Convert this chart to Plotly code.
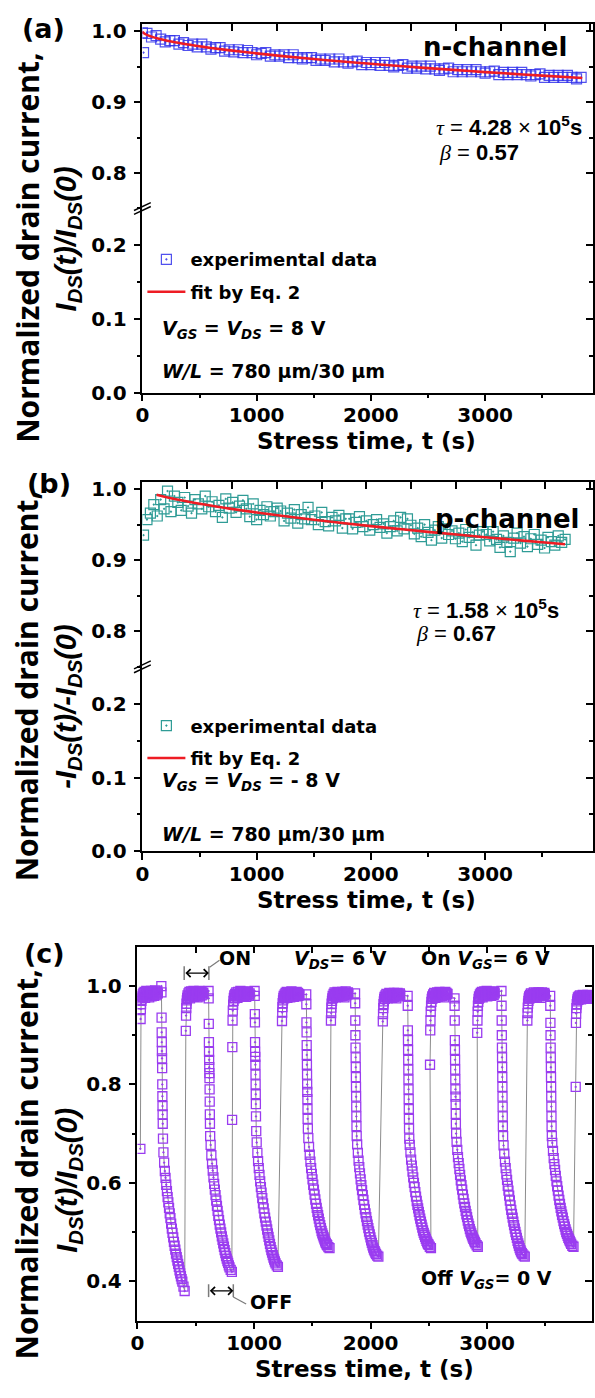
import plotly.graph_objects as go

W, H = 595, 1398

# ------------------------------------------------------------------ data
# (a) n-channel, experimental data
a_t = [0, 10,
       40, 80, 120, 160, 200, 240, 280, 320, 360, 400,
       440, 480, 520, 560, 600, 640, 680, 720, 760, 800,
       840, 880, 920, 960, 1000, 1040, 1080, 1120, 1160, 1200,
       1240, 1280, 1320, 1360, 1400, 1440, 1480, 1520, 1560, 1600,
       1640, 1680, 1720, 1760, 1800, 1840, 1880, 1920, 1960, 2000,
       2040, 2080, 2120, 2160, 2200, 2240, 2280, 2320, 2360, 2400,
       2440, 2480, 2520, 2560, 2600, 2640, 2680, 2720, 2760, 2800,
       2840, 2880, 2920, 2960, 3000, 3040, 3080, 3120, 3160, 3200,
       3240, 3280, 3320, 3360, 3400, 3440, 3480, 3520, 3560, 3600,
       3640, 3680, 3720, 3760, 3800, 3840]
a_v = [0.998, 0.970,
       0.997, 0.992, 0.994, 0.989, 0.985, 0.987, 0.987, 0.982, 0.984, 0.980,
       0.982, 0.978, 0.982, 0.978, 0.975, 0.977, 0.977, 0.972, 0.974, 0.971,
       0.974, 0.970, 0.973, 0.970, 0.967, 0.969, 0.970, 0.965, 0.967, 0.965,
       0.967, 0.963, 0.967, 0.963, 0.961, 0.963, 0.963, 0.959, 0.961, 0.959,
       0.961, 0.957, 0.961, 0.957, 0.955, 0.957, 0.958, 0.953, 0.956, 0.953,
       0.956, 0.952, 0.956, 0.952, 0.950, 0.952, 0.953, 0.948, 0.951, 0.948,
       0.951, 0.947, 0.951, 0.947, 0.945, 0.947, 0.948, 0.943, 0.946, 0.943,
       0.946, 0.943, 0.946, 0.943, 0.941, 0.943, 0.944, 0.939, 0.942, 0.939,
       0.942, 0.939, 0.942, 0.939, 0.937, 0.939, 0.940, 0.935, 0.938, 0.935,
       0.938, 0.935, 0.938, 0.935, 0.933, 0.935]
# (a) fit curve (Eq. 2)
a_fit_t = [0, 5, 20, 50, 100, 200, 300, 400, 500, 600, 750, 1000, 1250, 1500,
           1750, 2000, 2250, 2500, 2750, 3000, 3250, 3500, 3850]
a_fit_v = [1.0, 0.9985, 0.9966, 0.9943, 0.9915, 0.9874, 0.9842, 0.9814, 0.9789,
           0.9766, 0.9735, 0.9689, 0.9647, 0.9609, 0.9574, 0.9542, 0.9510,
           0.9481, 0.9453, 0.9425, 0.9400, 0.9375, 0.9341]

# (b) p-channel, experimental data
b_t = [10, 40, 70, 100, 130, 160, 190, 220, 250, 280,
       310, 340, 370, 400, 430, 460, 490, 520, 550, 580,
       610, 640, 670, 700, 730, 760, 790, 820, 850, 880,
       910, 940, 970, 1000, 1030, 1060, 1090, 1120, 1150, 1180,
       1210, 1240, 1270, 1300, 1330, 1360, 1390, 1420, 1450, 1480,
       1510, 1540, 1570, 1600, 1630, 1660, 1690, 1720, 1750, 1780,
       1810, 1840, 1870, 1900, 1930, 1960, 1990, 2020, 2050, 2080,
       2110, 2140, 2170, 2200, 2230, 2260, 2290, 2320, 2350, 2380,
       2410, 2440, 2470, 2500, 2530, 2560, 2590, 2620, 2650, 2680,
       2710, 2740, 2770, 2800, 2830, 2860, 2890, 2920, 2950, 2980,
       3010, 3040, 3070, 3100, 3130, 3160, 3190, 3220, 3250, 3280,
       3310, 3340, 3370, 3400, 3430, 3460, 3490, 3520, 3550, 3580,
       3610, 3640, 3670, 3700]
b_v = [0.935, 0.957, 0.966, 0.978, 0.962, 0.985, 0.972, 0.997, 0.968, 0.990,
       0.981, 0.970, 0.988, 0.976, 0.966, 0.985, 0.979, 0.972, 0.990, 0.975,
       0.982, 0.968, 0.977, 0.960, 0.986, 0.973, 0.981, 0.967, 0.976, 0.984,
       0.972, 0.961, 0.979, 0.957, 0.970, 0.964, 0.975, 0.962, 0.968, 0.973,
       0.969, 0.955, 0.966, 0.959, 0.971, 0.952, 0.964, 0.958, 0.974, 0.957,
       0.962, 0.950, 0.967, 0.954, 0.948, 0.960, 0.955, 0.963, 0.945, 0.958,
       0.958, 0.944, 0.953, 0.961, 0.947, 0.955, 0.942, 0.950, 0.957, 0.946,
       0.951, 0.938, 0.947, 0.955, 0.941, 0.960, 0.944, 0.958, 0.949, 0.937,
       0.945, 0.933, 0.950, 0.939, 0.928, 0.942, 0.947, 0.931, 0.944, 0.936,
       0.941, 0.930, 0.938, 0.926, 0.943, 0.932, 0.939, 0.921, 0.935, 0.940,
       0.936, 0.927, 0.940, 0.929, 0.918, 0.934, 0.925, 0.912, 0.931, 0.938,
       0.924, 0.933, 0.919, 0.930, 0.936, 0.922, 0.928, 0.917, 0.932, 0.926,
       0.921, 0.934, 0.925, 0.929]
b_fit_t = [124, 250, 500, 750, 1000, 1250, 1500, 1750, 2000, 2250, 2500, 2750,
           3000, 3250, 3500, 3700]
b_fit_v = [0.9917, 0.9868, 0.9791, 0.9727, 0.9669, 0.9617, 0.9568, 0.9522,
           0.9478, 0.9437, 0.9397, 0.9359, 0.9322, 0.9286, 0.9251, 0.9223]

# (c) ON/OFF cycling: phase start times and sample times within a phase
c_on_start = [25, 415, 812, 1240, 1660, 2105, 2510, 2915, 3345, 3760]
c_off_start = [205, 610, 1005, 1448, 1867, 2318, 2720, 3123, 3541]
c_on_dt = [0, 2, 4, 6, 9, 12, 15, 19, 23, 27, 31, 36, 41, 46, 51, 56, 61, 66, 71,
           76, 81, 86, 91, 96, 101, 106, 111, 116, 121, 126, 131, 136, 141, 146, 150]
c_off_dt = [0, 1, 2, 3, 4, 5, 6, 7, 8, 9, 10, 11, 12, 14,
            18, 24, 30, 36, 42, 48, 54, 60, 66, 72, 78, 84, 90, 96, 102, 108, 114,
            120, 126, 132, 138, 144, 150, 156, 162, 168, 174, 180, 190, 200]

c_on1 = [0.669, 0.933, 0.953, 0.963, 0.970, 0.975, 0.979, 0.983, 0.978, 0.986, 0.981, 0.988,
         0.976, 0.984, 0.990, 0.980, 0.986, 0.982, 0.989, 0.977, 0.985, 0.983, 0.990, 0.979,
         0.987, 0.982, 0.988, 0.980, 0.985, 0.991, 0.981, 0.987, 0.983, 0.989, 0.985]
c_on2 = [0.909, 0.940, 0.955, 0.964, 0.971, 0.976, 0.981, 0.977, 0.985, 0.980, 0.988, 0.975,
         0.983, 0.989, 0.979, 0.986, 0.981, 0.990, 0.978, 0.984, 0.987, 0.980, 0.989, 0.983,
         0.977, 0.986, 0.982, 0.990, 0.979, 0.985, 0.988, 0.981, 0.987, 0.983, 0.986]
c_on3 = [0.728, 0.876, 0.930, 0.950, 0.962, 0.970, 0.976, 0.981, 0.975, 0.984, 0.979, 0.987,
         0.982, 0.976, 0.988, 0.983, 0.979, 0.986, 0.990, 0.981, 0.985, 0.978, 0.988, 0.983,
         0.986, 0.980, 0.989, 0.984, 0.978, 0.986, 0.982, 0.988, 0.984, 0.981, 0.985]
c_on4 = [0.929, 0.946, 0.957, 0.965, 0.971, 0.976, 0.980, 0.975, 0.983, 0.978, 0.986, 0.981,
         0.988, 0.976, 0.984, 0.979, 0.987, 0.982, 0.977, 0.985, 0.989, 0.980, 0.986, 0.983,
         0.978, 0.987, 0.982, 0.985, 0.979, 0.988, 0.983, 0.986, 0.980, 0.984, 0.982]
c_on5 = [0.930, 0.945, 0.956, 0.964, 0.970, 0.975, 0.980, 0.976, 0.984, 0.979, 0.987, 0.982,
         0.977, 0.986, 0.981, 0.988, 0.978, 0.984, 0.982, 0.987, 0.979, 0.985, 0.983, 0.988,
         0.980, 0.986, 0.982, 0.977, 0.985, 0.989, 0.981, 0.986, 0.983, 0.987, 0.984]
c_on6 = [0.928, 0.943, 0.955, 0.963, 0.969, 0.974, 0.978, 0.974, 0.981, 0.977, 0.984, 0.979,
         0.975, 0.983, 0.980, 0.986, 0.977, 0.982, 0.979, 0.985, 0.976, 0.983, 0.981, 0.986,
         0.978, 0.984, 0.980, 0.975, 0.983, 0.986, 0.979, 0.984, 0.981, 0.985, 0.982]
c_on7 = [0.840, 0.910, 0.930, 0.948, 0.960, 0.968, 0.974, 0.979, 0.975, 0.983, 0.978, 0.986,
         0.981, 0.976, 0.985, 0.980, 0.987, 0.978, 0.984, 0.982, 0.988, 0.979, 0.985, 0.983,
         0.987, 0.980, 0.986, 0.982, 0.977, 0.985, 0.988, 0.981, 0.986, 0.983, 0.984]
c_on8 = [0.905, 0.930, 0.948, 0.960, 0.968, 0.974, 0.979, 0.976, 0.983, 0.979, 0.986, 0.981,
         0.988, 0.977, 0.985, 0.982, 0.989, 0.980, 0.986, 0.983, 0.990, 0.979, 0.987, 0.984,
         0.981, 0.988, 0.983, 0.986, 0.980, 0.989, 0.984, 0.987, 0.982, 0.988, 0.985]
c_on9 = [0.930, 0.945, 0.956, 0.964, 0.970, 0.975, 0.979, 0.975, 0.982, 0.978, 0.985, 0.980,
         0.976, 0.984, 0.981, 0.987, 0.978, 0.983, 0.980, 0.986, 0.977, 0.984, 0.982, 0.987,
         0.979, 0.985, 0.981, 0.976, 0.984, 0.987, 0.980, 0.985, 0.982, 0.986, 0.983]
c_on10 = [0.795, 0.925, 0.944, 0.955, 0.963, 0.969, 0.973, 0.977, 0.972, 0.979, 0.975, 0.981,
          0.977, 0.973, 0.980, 0.976, 0.982, 0.974, 0.979, 0.977, 0.981, 0.975, 0.980, 0.978,
          0.982, 0.976, 0.980, 0.977, 0.974, 0.981, 0.978, 0.980, 0.976, 0.979, 0.977]

c_off1 = [1.0, 0.987, 0.936, 0.906, 0.886, 0.868, 0.853, 0.833, 0.80, 0.776, 0.756, 0.739,
          0.72, 0.69,
          0.662, 0.641, 0.624, 0.610, 0.596, 0.583, 0.571, 0.560, 0.549, 0.538, 0.528,
          0.517, 0.507, 0.498, 0.489, 0.480, 0.472, 0.464, 0.456, 0.449, 0.442, 0.435,
          0.429, 0.422, 0.416, 0.410, 0.404, 0.399, 0.389, 0.380]
c_off2 = [0.99, 0.975, 0.923, 0.886, 0.866, 0.85, 0.835, 0.823, 0.813, 0.79, 0.765, 0.739,
          0.72, 0.695,
          0.677, 0.656, 0.639, 0.625, 0.611, 0.598, 0.586, 0.575, 0.564, 0.553, 0.543,
          0.533, 0.524, 0.515, 0.507, 0.499, 0.491, 0.484, 0.477, 0.470, 0.463, 0.457,
          0.451, 0.446, 0.441, 0.437, 0.432, 0.428, 0.423, 0.419]
c_off3 = [0.99, 0.98, 0.943, 0.926, 0.886, 0.866, 0.856, 0.84, 0.82, 0.80, 0.78, 0.76,
          0.735, 0.705,
          0.682, 0.661, 0.644, 0.630, 0.616, 0.603, 0.591, 0.580, 0.569, 0.558, 0.548,
          0.538, 0.529, 0.521, 0.513, 0.505, 0.497, 0.490, 0.483, 0.476, 0.469, 0.463,
          0.458, 0.453, 0.448, 0.444, 0.440, 0.436, 0.432, 0.429]
c_off4 = [0.983, 0.963, 0.926, 0.906, 0.88, 0.86, 0.84, 0.82, 0.80, 0.785, 0.77, 0.75,
          0.73, 0.71,
          0.691, 0.673, 0.657, 0.643, 0.630, 0.618, 0.607, 0.596, 0.586, 0.576, 0.566,
          0.557, 0.549, 0.541, 0.534, 0.527, 0.520, 0.514, 0.508, 0.502, 0.497, 0.493,
          0.489, 0.485, 0.481, 0.478, 0.475, 0.473, 0.469, 0.467]
c_off5 = [0.985, 0.965, 0.93, 0.90, 0.875, 0.855, 0.835, 0.815, 0.795, 0.775, 0.755, 0.735,
          0.715, 0.695,
          0.678, 0.661, 0.645, 0.632, 0.619, 0.607, 0.595, 0.585, 0.575, 0.565, 0.555,
          0.546, 0.538, 0.530, 0.522, 0.515, 0.508, 0.501, 0.495, 0.489, 0.483, 0.478,
          0.473, 0.468, 0.464, 0.461, 0.458, 0.455, 0.452, 0.450]
c_off6 = [0.98, 0.96, 0.91, 0.89, 0.87, 0.85, 0.83, 0.81, 0.79, 0.77, 0.75, 0.73,
          0.71, 0.69,
          0.677, 0.662, 0.647, 0.635, 0.623, 0.611, 0.600, 0.591, 0.581, 0.572, 0.563,
          0.555, 0.548, 0.541, 0.534, 0.527, 0.521, 0.515, 0.509, 0.503, 0.498, 0.494,
          0.490, 0.486, 0.482, 0.479, 0.476, 0.474, 0.470, 0.467]
c_off7 = [0.975, 0.96, 0.93, 0.89, 0.87, 0.85, 0.83, 0.81, 0.79, 0.775, 0.76, 0.74,
          0.72, 0.70,
          0.683, 0.667, 0.652, 0.640, 0.628, 0.616, 0.605, 0.595, 0.586, 0.576, 0.567,
          0.558, 0.551, 0.543, 0.536, 0.530, 0.523, 0.517, 0.512, 0.506, 0.501, 0.497,
          0.493, 0.489, 0.486, 0.483, 0.480, 0.477, 0.473, 0.470]
c_off8 = [0.99, 0.96, 0.93, 0.90, 0.875, 0.855, 0.835, 0.815, 0.795, 0.775, 0.755, 0.735,
          0.715, 0.695,
          0.676, 0.659, 0.643, 0.630, 0.617, 0.606, 0.594, 0.584, 0.574, 0.564, 0.554,
          0.545, 0.537, 0.529, 0.521, 0.514, 0.507, 0.500, 0.494, 0.488, 0.482, 0.477,
          0.472, 0.467, 0.463, 0.460, 0.457, 0.455, 0.452, 0.450]
c_off9 = [0.98, 0.96, 0.925, 0.90, 0.875, 0.855, 0.835, 0.815, 0.795, 0.775, 0.755, 0.735,
          0.715, 0.695,
          0.681, 0.665, 0.650, 0.638, 0.626, 0.614, 0.603, 0.593, 0.584, 0.574, 0.565,
          0.557, 0.549, 0.542, 0.535, 0.529, 0.522, 0.516, 0.511, 0.505, 0.500, 0.496,
          0.492, 0.488, 0.485, 0.482, 0.479, 0.476, 0.472, 0.470]

x_ticks = [0, 1000, 2000, 3000]

# ------------------------------------------------------------------ helpers
SANS = "Liberation Sans, Arial, sans-serif"
WIDE = "DejaVu Sans, Verdana, sans-serif"
OPEN = "Open Sans, DejaVu Sans, sans-serif"
BLUE = "rgba(50,50,235,0.85)"
TEAL = "#2f9c96"
PURPLE = "#9a3cf0"
RED = "#ee1c24"


def px(x):
    return x / W


def py(y):
    return 1 - y / H


c_on_all = [c_on1, c_on2, c_on3, c_on4, c_on5, c_on6, c_on7, c_on8, c_on9, c_on10]
c_off_all = [c_off1, c_off2, c_off3, c_off4, c_off5, c_off6, c_off7, c_off8, c_off9]
c_t, c_v = [], []
for k, on_vals in enumerate(c_on_all):
    for dt, v in zip(c_on_dt, on_vals):
        c_t.append(c_on_start[k] + dt)
        c_v.append(v)
    if k < len(c_off_all):
        for dt, v in zip(c_off_dt, c_off_all[k]):
            c_t.append(c_off_start[k] + dt)
            c_v.append(v)

# ------------------------------------------------------------------ figure
fig = go.Figure()

# empty traces so that every (overlay / broken) axis gets its own subplot
for xa, ya in [("x", "y"), ("x2", "y2"), ("x", "y3"), ("x", "y4"),
               ("x3", "y5"), ("x4", "y6"), ("x3", "y7"), ("x3", "y8"),
               ("x6", "y9"), ("x5", "y10")]:
    fig.add_trace(go.Scatter(x=[], y=[], xaxis=xa, yaxis=ya, showlegend=False,
                             hoverinfo="skip", mode="markers"))

fig.add_trace(go.Scatter(x=a_t, y=a_v, xaxis="x", yaxis="y2", mode="markers",
                         name="experimental data", legend="legend", legendgroup="a1",
                         marker=dict(symbol="square-open-dot", size=10, color=BLUE,
                                     line=dict(width=1.2, color=BLUE))))
fig.add_trace(go.Scatter(x=a_fit_t, y=a_fit_v, xaxis="x", yaxis="y2", mode="lines",
                         name="fit by Eq. 2", legend="legend", legendgroup="a2",
                         line_shape="spline", line=dict(color=RED, width=2.6)))

fig.add_trace(go.Scatter(x=b_t, y=b_v, xaxis="x3", yaxis="y6", mode="markers",
                         name="experimental data", legend="legend2", legendgroup="b1",
                         marker=dict(symbol="square-open-dot", size=10, color=TEAL,
                                     line=dict(width=1.2, color=TEAL))))
fig.add_trace(go.Scatter(x=b_fit_t, y=b_fit_v, xaxis="x3", yaxis="y6", mode="lines",
                         name="fit by Eq. 2", legend="legend2", legendgroup="b2",
                         line_shape="spline", line=dict(color=RED, width=2.6)))

fig.add_trace(go.Scatter(x=c_t, y=c_v, xaxis="x5", yaxis="y9", mode="lines+markers",
                         showlegend=False,
                         line=dict(color="#8c8c8c", width=1),
                         marker=dict(symbol="square-open-dot", size=9, color=PURPLE,
                                     line=dict(width=1.3, color=PURPLE))))

TICKFONT = dict(family=WIDE, size=20, color="black", weight="bold")


def xbottom(domain, anchor, rng):
    return dict(domain=domain, anchor=anchor, range=rng, showline=True,
                linecolor="black", linewidth=1.5, ticks="outside", ticklen=7,
                tickwidth=1.5, tickcolor="black", tickvals=x_ticks, tickformat="d",
                ticklabelstandoff=-3,
                minor=dict(ticks="outside", ticklen=4, tickwidth=1.5, tickcolor="black",
                           dtick=500, tick0=0, showgrid=False),
                showgrid=False, zeroline=False, tickfont=TICKFONT)


def xtop(over, anchor, rng, dtick):
    return dict(overlaying=over, side="top", anchor=anchor, range=rng, showline=True,
                linecolor="black", linewidth=1.5, ticks="inside", ticklen=7,
                tickwidth=1.5, tickcolor="black", dtick=dtick, tick0=0,
                showticklabels=False, showgrid=False, zeroline=False)


def yleft(domain, anchor, rng, dtick, mdtick):
    return dict(domain=domain, anchor=anchor, range=rng, showline=True, mirror=True,
                linecolor="black", linewidth=1.5, ticks="outside", ticklen=7,
                tickwidth=1.5, tickcolor="black", dtick=dtick, tick0=0,
                tickformat=".1f", ticklabelstandoff=3,
                minor=dict(ticks="outside", ticklen=4, tickwidth=1.5, tickcolor="black",
                           dtick=mdtick, tick0=0, showgrid=False),
                showgrid=False, zeroline=False, tickfont=TICKFONT)


def yright(over, anchor, rng, dtick, mdtick):
    return dict(overlaying=over, side="right", anchor=anchor, range=rng,
                showline=False, ticks="inside", ticklen=7, tickwidth=1.5,
                tickcolor="black", dtick=dtick, tick0=0,
                minor=dict(ticks="inside", ticklen=4, tickwidth=1.5, tickcolor="black",
                           dtick=mdtick, tick0=0, showgrid=False),
                showticklabels=False, showgrid=False, zeroline=False)


XA = [px(137), px(592.5)]
XC = [px(132), px(592)]
RA = [0, 3940]
RC = [0, 3900]
LOW = [0, 0.25]
UP = [0.75, 1.01]
a_dom_low = [py(392.5), py(206)]
a_dom_up = [py(206), py(19.5)]
b_dom_low = [py(856.7), py(670)]
b_dom_up = [py(670), py(482.7)]
c_dom = [py(1331.7), py(953.3)]

fig.update_layout(
    xaxis=xbottom(XA, "y", RA),
    yaxis=yleft(a_dom_low, "x", LOW, 0.1, 0.05),
    yaxis2=yleft(a_dom_up, "x", UP, 0.1, 0.05),
    xaxis2=xtop("x", "y2", RA, 392),
    yaxis3=yright("y", "x", LOW, 0.1, 0.05),
    yaxis4=yright("y2", "x", UP, 0.1, 0.05),
    xaxis3=xbottom(XA, "y5", RA),
    yaxis5=yleft(b_dom_low, "x3", LOW, 0.1, 0.05),
    yaxis6=yleft(b_dom_up, "x3", UP, 0.1, 0.05),
    xaxis4=xtop("x3", "y6", RA, 392),
    yaxis7=yright("y5", "x3", LOW, 0.1, 0.05),
    yaxis8=yright("y6", "x3", UP, 0.1, 0.05),
    xaxis5=xbottom(XC, "y9", RC),
    yaxis9=yleft(c_dom, "x5", [0.32, 1.08], 0.2, 0.1),
    xaxis6=xtop("x5", "y9", RC, 500),
    yaxis10=yright("y9", "x5", [0.32, 1.08], 0.2, 0.1),
)

LEGFONT = dict(family=WIDE, size=18, color="black", weight="bold")
fig.update_layout(
    width=W, height=H, autosize=False,
    margin=dict(l=0, r=0, t=0, b=0),
    paper_bgcolor="white", plot_bgcolor="white",
    legend=dict(x=px(137), y=py(239), xanchor="left", yanchor="top",
                bgcolor="rgba(0,0,0,0)", font=LEGFONT, itemwidth=38,
                tracegroupgap=6),
    legend2=dict(x=px(137), y=py(711), xanchor="left", yanchor="top",
                 bgcolor="rgba(0,0,0,0)", font=LEGFONT, itemwidth=38,
                 tracegroupgap=6),
)

ann = []


def A(text, x, y, size, family=WIDE, xanchor="center", yanchor="middle",
      angle=0, weight="bold"):
    ann.append(dict(text=text, x=px(x), y=py(y), xref="paper", yref="paper",
                    showarrow=False, xanchor=xanchor, yanchor=yanchor,
                    textangle=angle,
                    font=dict(family=family, size=size, color="black", weight=weight)))


TAU = ("<span style='font-family:Liberation Serif;font-style:italic;font-weight:normal'>τ</span>"
       "<span style='font-weight:normal'> = </span>{v} "
       "<span style='font-weight:normal'>×</span> 10<sup>5</sup>s")
BETA = ("<span style='font-family:Liberation Serif;font-style:italic;font-weight:normal'>β</span>"
        "<span style='font-weight:normal'> = </span>{v}")
ID_N = "<i>I</i><sub><i>DS</i></sub><i>(t)/I</i><sub><i>DS</i></sub><i>(0)</i>"
ID_P = "<i>-I</i><sub><i>DS</i></sub><i>(t)/-I</i><sub><i>DS</i></sub><i>(0)</i>"
VGS_N = "<i>V</i><sub><i>GS</i></sub> = <i>V</i><sub><i>DS</i></sub> = 8 V"
VGS_P = "<i>V</i><sub><i>GS</i></sub> = <i>V</i><sub><i>DS</i></sub> = - 8 V"
WL = "<i>W/L</i> = 780 μm/30 μm"

# panel (a)
A("(a)", 37, 24, 27)
A("n-channel", 569, 43, 26, xanchor="right")
A(TAU.format(v="4.28"), 584, 122, 22, SANS, xanchor="right")
A(BETA.format(v="0.57"), 435, 149, 22, SANS, xanchor="left")
A(VGS_N, 155, 328, 19, xanchor="left")
A(WL, 155, 371, 19, xanchor="left")
A("Stress time, t (s)", 364, 441, 23)
A("Normalized drain current,", 20, 246, 30, OPEN, angle=-90)
A(ID_N, 62, 237, 29, SANS, angle=-90)

# panel (b)
A("(b)", 42, 484, 27)
A("p-channel", 581, 520, 26, xanchor="right")
A(TAU.format(v="1.58"), 561, 611, 22, SANS, xanchor="right")
A(BETA.format(v="0.67"), 412, 636, 22, SANS, xanchor="left")
A(VGS_P, 155, 786, 19, xanchor="left")
A(WL, 155, 839, 19, xanchor="left")
A("Stress time, t (s)", 364, 906, 23)
A("Normalized drain current,", 20, 690, 30, OPEN, angle=-90)
A(ID_P, 62, 710, 29, SANS, angle=-90)

# panel (c)
A("(c)", 38, 960, 27)
A("ON", 231, 965, 19)
A("<i>V</i><sub><i>DS</i></sub>= 6 V", 288, 966, 19, xanchor="left")
A("On <i>V</i><sub><i>GS</i></sub>= 6 V", 417, 966, 19, xanchor="left")
A("Off <i>V</i><sub><i>GS</i></sub>= 0 V", 417, 1290, 19, xanchor="left")
A("OFF", 267, 1313, 19)
A("Stress time, t (s)", 362, 1381, 23)
A("Normalized drain current,", 20, 1174, 30, OPEN, angle=-90)
A(ID_N, 62, 1190, 29, SANS, angle=-90)

# double arrows (ON / OFF periods)
for (x0, x1, y) in [(179.3, 204.3, 980), (204, 229, 1301.7)]:
    ann.append(dict(x=px(x1), y=py(y), xref="paper", yref="paper", ax=-(x1 - x0), ay=0,
                    text="", showarrow=True, arrowside="end+start", arrowhead=4,
                    startarrowhead=4, arrowsize=1.1, startarrowsize=1.1,
                    arrowwidth=1.4, arrowcolor="black", standoff=0, startstandoff=0))

fig.update_layout(annotations=ann)

shapes = []


def L(x0, y0, x1, y1, color="black", width=1.5):
    shapes.append(dict(type="line", xref="paper", yref="paper", x0=px(x0), y0=py(y0),
                       x1=px(x1), y1=py(y1), line=dict(color=color, width=width)))


# axis-break marks
for yb, xb in [(206, 137), (670, 137)]:
    L(xb - 8.5, yb + 6, xb + 8.5, yb - 2)
    L(xb - 8.5, yb + 2, xb + 8.5, yb - 6)
# arrow end bars and leader lines (panel c)
GREY = "#7a7a7a"
L(179.3, 973, 179.3, 987, GREY, 1.5)
L(204.3, 973, 204.3, 987, GREY, 1.5)
L(205, 974, 215, 967, GREY, 1.2)
L(204, 1295, 204, 1308, GREY, 1.5)
L(229, 1295, 229, 1308, GREY, 1.5)
L(229, 1308, 242, 1315, GREY, 1.2)

fig.update_layout(shapes=shapes)

fig.write_html("out.html")
